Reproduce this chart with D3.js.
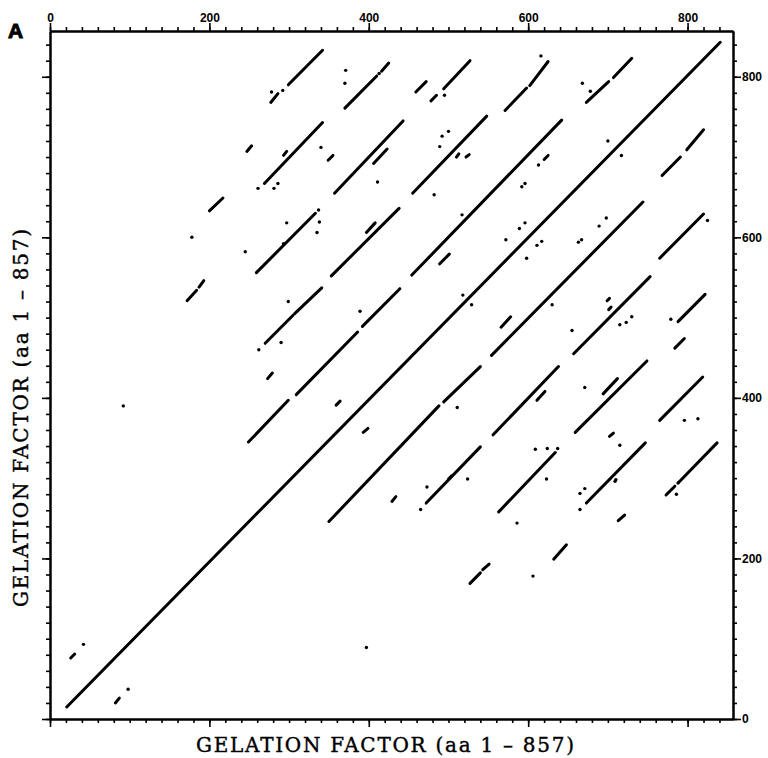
<!DOCTYPE html>
<html><head><meta charset="utf-8">
<script src="https://cdn.jsdelivr.net/npm/d3@7/dist/d3.min.js"></script>
<style>body{margin:0;background:#fff}svg{display:block}</style>
</head><body>
<svg id="chart" width="768" height="758"></svg>
<script>
// ---- data (residue numbers, aa) ----
const residueMax = 857;
const majorTicks = [0, 200, 400, 600, 800];
const minorTicks = d3.range(0, 841, 20);
const axisTitle = "GELATION FACTOR (aa 1 \u2013 857)";
const panelLabel = "A";

// self-comparison dot plot: diagonal runs [x1, y1, x2, y2]
const mainDiagonal = [[21, 15, 841, 843]];

const upperSegments = [
  [277,768,286,779],[299,790,342,833],[370,761,410,801],[416,807,425,817],
  [459,781,472,794],[478,770,485,777],[494,785,527,820],
  [571,758,598,786],[602,789,625,819],[673,768,701,794],[707,799,730,823],
  [247,707,253,714],[269,667,342,743],[293,702,297,707],[349,696,355,702],
  [357,655,443,745],[406,692,423,710],[455,655,548,751],
  [510,700,513,704],[522,700,526,703],[620,697,625,702],
  [259,556,333,630],[353,552,438,636],[397,606,408,618],
  [172,521,184,534],[187,538,193,546],
  [270,468,305,503],[307,505,341,537],
  [273,424,279,431],[359,391,364,396],
  [200,633,217,649],[26,76,31,81],[489,567,501,579],
  [249,345,299,397],[309,404,386,482],[392,489,439,536],[454,553,642,746]
];

const lowerSegments = [
  [350,246,488,390],[494,395,540,439],[554,453,744,644],
  [768,677,791,700],[799,709,820,734],
  [472,269,540,339],[556,354,638,439],[657,455,753,551],[765,574,820,629],
  [563,258,634,332],[659,357,749,446],[788,495,822,529],
  [673,269,747,344],[765,372,819,426],
  [773,279,784,290],[789,295,837,344],
  [566,488,578,501],[699,521,702,524],[701,510,704,513],
  [784,462,796,474],[611,397,621,408],[694,405,712,424],
  [500,299,504,303],[702,352,707,356],[713,247,721,254],
  [632,199,648,217],[527,169,540,182],[543,186,551,193],
  [429,271,434,277],[393,357,399,362],[82,20,87,26]
];

const upperDots = [
  [278,781],[292,783],[413,804],[371,808],[370,792],[495,777],[616,826],
  [668,792],[678,782],[340,712],[261,661],[281,661],[286,667],[411,669],
  [492,726],[500,732],[489,713],[482,653],[613,690],[592,663],[596,667],
  [700,720],[297,618],[337,634],[338,619],[335,606],[245,582],[293,592],
  [517,628],[589,611],[596,618],[572,597],[299,520],[389,508],[262,460],
  [290,469],[92,390],[178,600],[42,93],[518,528]
];

const lowerDots = [
  [717,702],[611,590],[617,595],[598,574],[689,614],[698,624],[663,594],
  [667,597],[825,621],[529,516],[630,516],[715,491],[723,494],[730,501],
  [655,484],[779,498],[671,413],[511,388],[796,372],[813,374],[524,299],
  [473,289],[465,261],[609,336],[624,337],[637,337],[623,299],[586,244],
  [715,341],[710,298],[671,287],[665,261],[665,281],[709,296],[788,294],
  [786,280],[606,178],[397,89],[98,37]
];

// ---- chart ----
const svg = d3.select("#chart");
const x = d3.scaleLinear().domain([0, residueMax]).range([50, 733]);
const y = d3.scaleLinear().domain([0, residueMax]).range([719, 31]);

function drawAxis(gen, transform, scale, labelled) {
  const gMinor = svg.append("g").attr("transform", transform)
    .call(gen(scale).tickValues(minorTicks).tickSize(4).tickSizeOuter(0).tickFormat(""));
  const gMajor = svg.append("g").attr("transform", transform)
    .call(gen(scale).tickValues(majorTicks).tickSize(8).tickSizeOuter(0).tickPadding(1)
      .tickFormat(labelled ? d3.format("d") : ""));
  [gMinor, gMajor].forEach(g => {
    g.select(".domain").attr("stroke", "#000").attr("stroke-width", 2);
    g.selectAll(".tick line").attr("stroke", "#000").attr("stroke-width", 1.6);
    g.selectAll(".tick text").attr("fill", "#000")
      .style("font-family", "'Liberation Sans', Arial, sans-serif")
      .style("font-weight", "bold").style("font-size", "12px");
  });
  return gMajor;
}
drawAxis(d3.axisTop, "translate(0,31)", x, true);
drawAxis(d3.axisBottom, "translate(0,719)", x, false);
drawAxis(d3.axisLeft, "translate(50,0)", y, false);
drawAxis(d3.axisRight, "translate(733,0)", y, true);

const marks = svg.append("g");
const allSegments = mainDiagonal.concat(upperSegments, lowerSegments);
marks.selectAll("line.seg").data(allSegments).join("line")
  .attr("class", "seg")
  .attr("x1", d => x(d[0])).attr("y1", d => y(d[1]))
  .attr("x2", d => x(d[2])).attr("y2", d => y(d[3]))
  .attr("stroke", "#000").attr("stroke-width", 3).attr("stroke-linecap", "round");

marks.selectAll("circle.dot").data(upperDots.concat(lowerDots)).join("circle")
  .attr("class", "dot")
  .attr("cx", d => x(d[0])).attr("cy", d => y(d[1]))
  .attr("r", 1.7).attr("fill", "#000");

// titles
const titleFont = "'DejaVu Serif', 'Liberation Serif', serif";
svg.append("text").attr("x", 385).attr("y", 752).attr("text-anchor", "middle")
  .attr("textLength", 378).attr("lengthAdjust", "spacing")
  .attr("stroke", "#000").attr("stroke-width", 0.4)
  .style("font-family", titleFont).style("font-size", "20px").text(axisTitle);
svg.append("text").attr("transform", "translate(28,418) rotate(-90)")
  .attr("text-anchor", "middle").attr("textLength", 378).attr("lengthAdjust", "spacing")
  .attr("stroke", "#000").attr("stroke-width", 0.4)
  .style("font-family", titleFont).style("font-size", "20px").text(axisTitle);

svg.append("text").attr("x", 8).attr("y", 38)
  .attr("stroke", "#000").attr("stroke-width", 1)
  .style("font-family", "'Liberation Sans', Arial, sans-serif")
  .style("font-weight", "bold").style("font-size", "21px").text(panelLabel);
</script>
</body></html>
